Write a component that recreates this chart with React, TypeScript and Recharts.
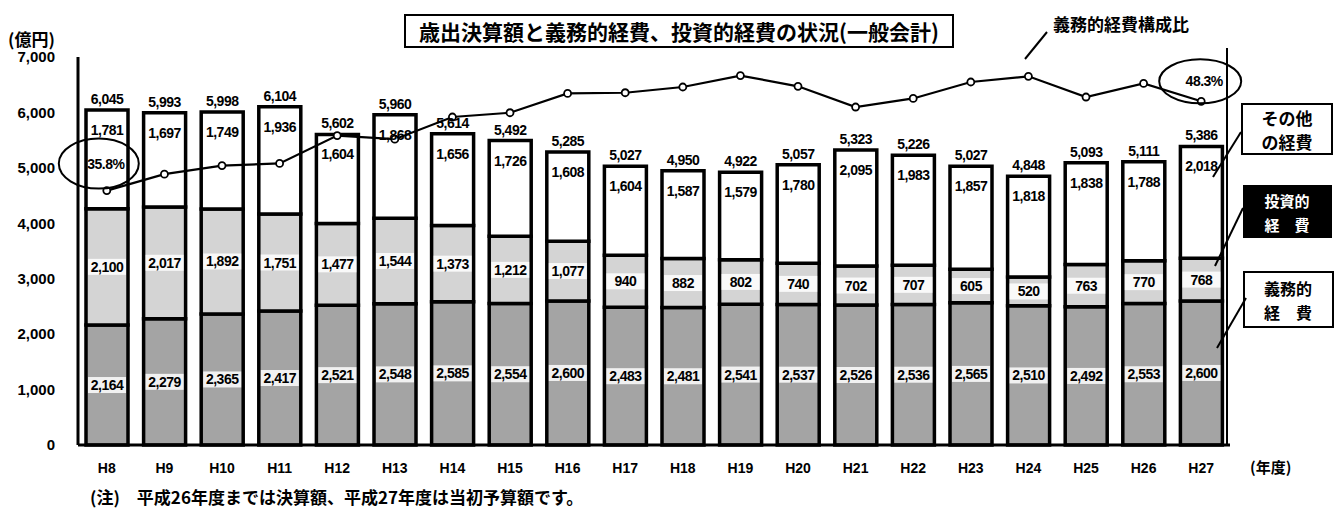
import React from 'react';
import { ComposedChart, Bar, Line, XAxis, YAxis, LabelList, ReferenceDot } from 'recharts';

const years = ['H8', 'H9', 'H10', 'H11', 'H12', 'H13', 'H14', 'H15', 'H16', 'H17', 'H18', 'H19', 'H20', 'H21', 'H22', 'H23', 'H24', 'H25', 'H26', 'H27'];
// 義務的経費
const mandatory = [2164, 2279, 2365, 2417, 2521, 2548, 2585, 2554, 2600, 2483, 2481, 2541, 2537, 2526, 2536, 2565, 2510, 2492, 2553, 2600];
// 投資的経費
const investment = [2100, 2017, 1892, 1751, 1477, 1544, 1373, 1212, 1077, 940, 882, 802, 740, 702, 707, 605, 520, 763, 770, 768];
// その他の経費
const other = [1781, 1697, 1749, 1936, 1604, 1868, 1656, 1726, 1608, 1604, 1587, 1579, 1780, 2095, 1983, 1857, 1818, 1838, 1788, 2018];
// 歳出決算額
const totals = [6045, 5993, 5998, 6104, 5602, 5960, 5614, 5492, 5285, 5027, 4950, 4922, 5057, 5323, 5226, 5027, 4848, 5093, 5111, 5386];
// 義務的経費構成比 (%)
const mandatoryRatio = [35.8, 38.1, 39.3, 39.6, 43.5, 43.0, 46.1, 46.7, 49.4, 49.5, 50.3, 51.9, 50.4, 47.5, 48.7, 51.0, 51.8, 48.9, 50.8, 48.3];
const yTicks = [0, 1000, 2000, 3000, 4000, 5000, 6000, 7000];

const data = years.map((y, i) => ({
  year: y,
  mandatory: mandatory[i],
  investment: investment[i],
  other: other[i],
  total: totals[i],
  ratio: mandatoryRatio[i],
}));

const FONT = "'Liberation Sans', 'Noto Sans CJK JP', sans-serif";
const JP = "'Noto Sans CJK JP', sans-serif";
const fmt = (v: any) => Number(v).toLocaleString('en-US');

const centerLabel = (props: any) => {
  const { x, y, width, height, value } = props;
  const cx = Number(x) + Number(width) / 2;
  const cy = Number(y) + Number(height) / 2;
  return (
    <g>
      <rect x={cx - 19} y={cy - 8} width={38} height={16} fill="#fff" opacity={0.85} />
      <text x={cx} y={cy} textAnchor="middle" dominantBaseline="central" fontSize={14} fontWeight={700} fontFamily={FONT} fill="#000" letterSpacing={-0.5}>
        {fmt(value)}
      </text>
    </g>
  );
};

const ellipseShape = (label: string, dx: number, dy: number, rx: number, ry: number, tdx: number) => (p: any) => {
  const cx = Number(p.cx);
  const cy = Number(p.cy);
  return (
    <g>
      <ellipse cx={cx + dx} cy={cy + dy} rx={rx} ry={ry} fill="none" stroke="#000" strokeWidth={2} />
      <text x={cx + dx + tdx} y={cy + dy} textAnchor="middle" dominantBaseline="central" fontSize={14} fontWeight={700} fontFamily={FONT} letterSpacing={-0.5}>
        {label}
      </text>
    </g>
  );
};

export default function App() {
  return (
    <div style={{ position: 'absolute', left: 0, top: 0, width: 1336, height: 511, background: '#fff' }}>
      <ComposedChart width={1336} height={511} data={data} margin={{ top: 57, right: 106, bottom: 0, left: 0 }} barSize={42}>
        <XAxis
          dataKey="year"
          height={66}
          tickSize={0}
          tickMargin={18}
          axisLine={{ stroke: '#000', strokeWidth: 3 }}
          tickLine={false}
          tick={{ fill: '#000', fontSize: 14, fontWeight: 700, fontFamily: FONT }}
          interval={0}
        />
        <YAxis
          yAxisId="left"
          width={78}
          domain={[0, 7000]}
          ticks={yTicks}
          tickFormatter={fmt}
          tickSize={0}
          tickMargin={23}
          tickLine={false}
          axisLine={{ stroke: '#000', strokeWidth: 3 }}
          tick={{ fill: '#000', fontSize: 15, fontWeight: 700, fontFamily: FONT }}
        />
        <YAxis yAxisId="right" orientation="right" hide domain={[0.2, 54.5]} />
        <Bar yAxisId="left" dataKey="mandatory" stackId="s" fill="#a4a4a4" stroke="#000" strokeWidth={3.5} isAnimationActive={false}>
          <LabelList dataKey="mandatory" content={centerLabel} />
        </Bar>
        <Bar yAxisId="left" dataKey="investment" stackId="s" fill="#d4d4d4" stroke="#000" strokeWidth={3.5} isAnimationActive={false}>
          <LabelList dataKey="investment" content={centerLabel} />
        </Bar>
        <Bar yAxisId="left" dataKey="other" stackId="s" fill="#fff" stroke="#000" strokeWidth={3.5} isAnimationActive={false}>
          <LabelList dataKey="other" position="insideTop" offset={15} formatter={fmt} fill="#000" fontSize={14} fontWeight={700} fontFamily={FONT} letterSpacing={-0.5} />
          <LabelList dataKey="total" position="top" offset={6} formatter={fmt} fill="#000" fontSize={14} fontWeight={700} fontFamily={FONT} letterSpacing={-0.5} />
        </Bar>
        <Line
          yAxisId="right"
          dataKey="ratio"
          type="linear"
          stroke="#000"
          strokeWidth={2.2}
          dot={{ r: 3.5, fill: '#fff', stroke: '#000', strokeWidth: 1.8 }}
          isAnimationActive={false}
        />
        <ReferenceDot yAxisId="right" x="H8" y={mandatoryRatio[0]} shape={ellipseShape('35.8%', -8, -27, 40, 25, 7)} />
        <ReferenceDot yAxisId="right" x="H27" y={mandatoryRatio[19]} shape={ellipseShape('48.3%', -1, -20, 41, 22, 4)} />
      </ComposedChart>
      <svg width={1336} height={511} style={{ position: 'absolute', left: 0, top: 0, pointerEvents: 'none' }}>
        <text x={8} y={38} dominantBaseline="central" fontSize={17} fontWeight={700} fontFamily={JP}>(億円)</text>
        <rect x={405} y={15} width={548} height={32} fill="#fff" stroke="#000" strokeWidth={2} />
        <text x={679} y={31} textAnchor="middle" dominantBaseline="central" fontSize={21} fontWeight={700} fontFamily={JP}>
          歳出決算額と義務的経費、投資的経費の状況(一般会計)
        </text>
        <text x={1121} y={23} textAnchor="middle" dominantBaseline="central" fontSize={17} fontWeight={700} fontFamily={JP}>義務的経費構成比</text>
        <line x1={1047} y1={32} x2={1025} y2={59} stroke="#000" strokeWidth={2} />
        <line x1={1227} y1={48} x2={1227} y2={445} stroke="#000" strokeWidth={2} />
        <rect x={1242} y={104} width={90} height={50} fill="#fff" stroke="#000" strokeWidth={2} />
        <text x={1287} y={117} textAnchor="middle" dominantBaseline="central" fontSize={17} fontWeight={700} fontFamily={JP}>その他</text>
        <text x={1287} y={141} textAnchor="middle" dominantBaseline="central" fontSize={17} fontWeight={700} fontFamily={JP}>の経費</text>
        <line x1={1241} y1={132} x2={1213} y2={177} stroke="#000" strokeWidth={2} />
        <rect x={1243} y={185} width={89} height={53} fill="#000" />
        <text x={1287} y={200} textAnchor="middle" dominantBaseline="central" fontSize={15} fontWeight={700} fontFamily={JP} fill="#fff">投資的</text>
        <text x={1287} y={224} textAnchor="middle" dominantBaseline="central" fontSize={15} fontWeight={700} fontFamily={JP} fill="#fff">経　費</text>
        <line x1={1243} y1={208} x2={1215} y2={266} stroke="#000" strokeWidth={2} />
        <rect x={1244} y={272} width={89} height={55} fill="#fff" stroke="#000" strokeWidth={2} />
        <text x={1288} y={288} textAnchor="middle" dominantBaseline="central" fontSize={16} fontWeight={700} fontFamily={JP}>義務的</text>
        <text x={1288} y={312} textAnchor="middle" dominantBaseline="central" fontSize={16} fontWeight={700} fontFamily={JP}>経　費</text>
        <line x1={1246} y1={298} x2={1217} y2={348} stroke="#000" strokeWidth={2} />
        <text x={1250} y={466} dominantBaseline="central" fontSize={15} fontWeight={700} fontFamily={JP}>(年度)</text>
        <text x={90} y={496} dominantBaseline="central" fontSize={17} fontWeight={700} fontFamily={JP}>
          (注)　平成26年度までは決算額、平成27年度は当初予算額です。
        </text>
      </svg>
    </div>
  );
}
